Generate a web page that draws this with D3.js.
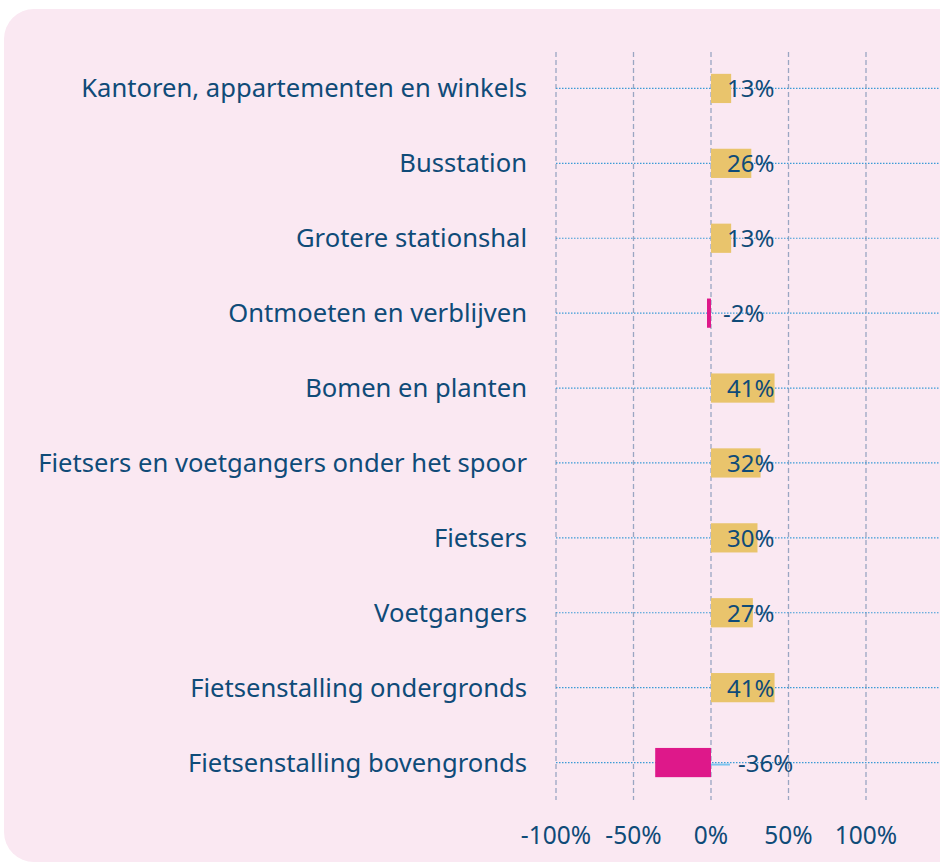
<!DOCTYPE html>
<html>
<head>
<meta charset="utf-8">
<script src="https://cdn.jsdelivr.net/npm/d3@7"></script>
<style>
  html, body { margin: 0; padding: 0; background: #ffffff; }
  svg { display: block; }
</style>
</head>
<body>
<svg id="chart" width="940" height="865"></svg>
<script>
// Categories and their percentage values
const categories = [
  "Kantoren, appartementen en winkels",
  "Busstation",
  "Grotere stationshal",
  "Ontmoeten en verblijven",
  "Bomen en planten",
  "Fietsers en voetgangers onder het spoor",
  "Fietsers",
  "Voetgangers",
  "Fietsenstalling ondergronds",
  "Fietsenstalling bovengronds"
];
const values = [13, 26, 13, -2, 41, 32, 30, 27, 41, -36];
const tickValues = [-100, -50, 0, 50, 100];
const tickLabels = ["-100%", "-50%", "0%", "50%", "100%"];

const textColor = "#0f4b78";
const posColor = "#e9c46c";
const negColor = "#de188a";
const font = "'Noto Sans', sans-serif";

const svg = d3.select("#chart");

// rounded panel
svg.append("rect")
  .attr("x", 4).attr("y", 9)
  .attr("width", 966).attr("height", 853)
  .attr("rx", 30).attr("ry", 30)
  .attr("fill", "#fae8f2");

const x = d3.scaleLinear().domain([-100, 100]).range([556, 866]);
const y = d3.scaleBand().domain(categories).range([51, 800]).paddingInner(0.61).paddingOuter(0.305);

// vertical dashed gridlines
svg.append("g").selectAll("line").data(tickValues).join("line")
  .attr("x1", d => x(d)).attr("x2", d => x(d))
  .attr("y1", 52).attr("y2", 800)
  .attr("stroke", "#9aa6c2").attr("stroke-width", 1.3)
  .attr("stroke-dasharray", "5,3");

// horizontal dotted guide per category
svg.append("g").selectAll("line").data(categories).join("line")
  .attr("x1", x(-100)).attr("x2", 940)
  .attr("y1", d => y(d) + y.bandwidth() / 2)
  .attr("y2", d => y(d) + y.bandwidth() / 2)
  .attr("stroke", "#3c9bd6").attr("stroke-width", 1.2)
  .attr("stroke-dasharray", "1.5,1.5");

// bars (tiny negative values get a minimum visible width)
const minW = 4;
svg.append("g").selectAll("rect").data(values).join("rect")
  .attr("x", d => d >= 0 ? x(0) : Math.min(x(d), x(0) - minW))
  .attr("y", (d, i) => y(categories[i]))
  .attr("width", d => Math.max(minW, Math.abs(x(d) - x(0))))
  .attr("height", y.bandwidth())
  .attr("fill", d => d < 0 ? negColor : posColor);

// leader line for the large negative value
svg.append("g").selectAll("line").data(values.filter(v => v < -10)).join("line")
  .attr("x1", x(0)).attr("x2", x(0) + 19)
  .attr("y1", d => y(categories[values.indexOf(d)]) + y.bandwidth() / 2 + 2)
  .attr("y2", d => y(categories[values.indexOf(d)]) + y.bandwidth() / 2 + 2)
  .attr("stroke", "#7cc4ef").attr("stroke-width", 2);

// value labels
svg.append("g").selectAll("text").data(values).join("text")
  .attr("x", d => d >= 0 ? x(0) + 16 : (d < -10 ? x(0) + 27 : x(0) + 12))
  .attr("y", (d, i) => y(categories[i]) + y.bandwidth() / 2 + 9)
  .attr("fill", textColor)
  .attr("font-family", font)
  .attr("font-size", 24)
  .text(d => d + "%");

// category labels
svg.append("g").selectAll("text").data(categories).join("text")
  .attr("x", 527)
  .attr("y", d => y(d) + y.bandwidth() / 2 + 9)
  .attr("text-anchor", "end")
  .attr("fill", textColor)
  .attr("font-family", font)
  .attr("font-size", 25.6)
  .text(d => d);

// axis tick labels
svg.append("g").selectAll("text").data(tickValues).join("text")
  .attr("x", d => x(d))
  .attr("y", 844)
  .attr("text-anchor", "middle")
  .attr("fill", textColor)
  .attr("font-family", font)
  .attr("font-size", 24.5)
  .text((d, i) => tickLabels[i]);
</script>
</body>
</html>
